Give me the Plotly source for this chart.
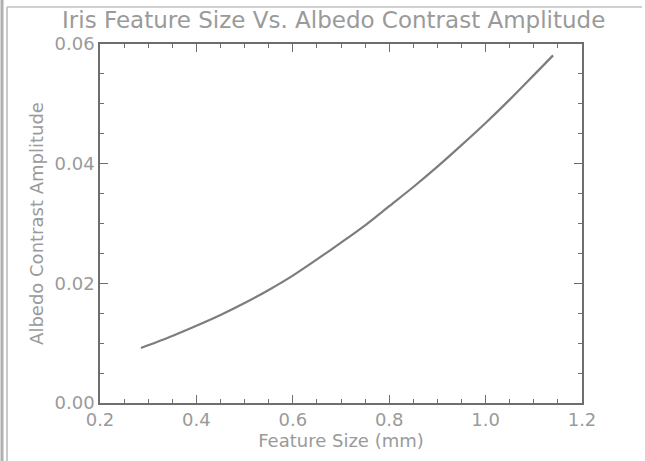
import plotly.graph_objects as go

feature_size = [0.285, 0.35, 0.40, 0.45, 0.50, 0.55, 0.60, 0.65, 0.70, 0.75,
                0.80, 0.85, 0.90, 0.95, 1.00, 1.05, 1.10, 1.14]
albedo_amp = [0.0092, 0.0112, 0.0129, 0.0147, 0.0167, 0.0189, 0.0213, 0.0240,
              0.0268, 0.0297, 0.0329, 0.0361, 0.0395, 0.0431, 0.0468, 0.0507,
              0.0548, 0.0581]
x_ticks = [0.2, 0.4, 0.6, 0.8, 1.0, 1.2]
x_tick_labels = ["0.2", "0.4", "0.6", "0.8", "1.0", "1.2"]
y_ticks = [0.0, 0.02, 0.04, 0.06]
y_tick_labels = ["0.00", "0.02", "0.04", "0.06"]

W, H = 645, 461
L, R, T, B = 100, 582, 44, 403
pw, ph = R - L, B - T

def px(xp):
    return (xp - L) / pw

def py(yp):
    return (B - yp) / ph

FONT = "DejaVu Sans"
TXT = "#9a9a9a"
AX = "#6e6e6e"

fig = go.Figure()
fig.add_trace(go.Scatter(x=feature_size, y=albedo_amp, mode="lines",
                         line=dict(color="#7d7d7d", width=2.2, shape="spline",
                                   smoothing=0.8),
                         hoverinfo="skip", showlegend=False))

axis_common = dict(showgrid=False, zeroline=False, showline=True, linecolor=AX,
                   linewidth=1.5, ticks="inside", ticklen=8, tickwidth=1.2,
                   tickcolor=AX, mirror="ticks",
                   tickfont=dict(family=FONT, size=18, color=TXT))

fig.update_layout(
    width=W, height=H,
    margin=dict(l=L, r=W - R, t=T, b=H - B, pad=0),
    paper_bgcolor="white", plot_bgcolor="white",
    xaxis=dict(range=[0.2, 1.2], tickvals=x_ticks, ticktext=x_tick_labels,
               minor=dict(dtick=0.05, ticks="inside", ticklen=4, tickwidth=1,
                          tickcolor=AX, showgrid=False),
               title=dict(text="Feature Size (mm)", standoff=2,
                          font=dict(family=FONT, size=18, color=TXT)),
               **axis_common),
    yaxis=dict(range=[0, 0.06], tickvals=y_ticks, ticktext=y_tick_labels,
               minor=dict(dtick=0.005, ticks="inside", ticklen=4, tickwidth=1,
                          tickcolor=AX, showgrid=False),
               title=dict(text="Albedo Contrast Amplitude", standoff=6,
                          font=dict(family=FONT, size=18, color=TXT)),
               **axis_common),
    annotations=[dict(text="Iris Feature Size Vs. Albedo Contrast Amplitude",
                      x=px(333), y=py(20), xref="paper", yref="paper",
                      xanchor="center", yanchor="middle", showarrow=False,
                      font=dict(family=FONT, size=23, color=TXT))],
    shapes=[
        dict(type="line", xref="paper", yref="paper", x0=px(2), x1=px(2),
             y0=py(0), y1=py(H), line=dict(color="#b0b0b0", width=3)),
        dict(type="line", xref="paper", yref="paper", x0=px(7), x1=px(7),
             y0=py(7), y1=py(H), line=dict(color="#b8b8b8", width=1.5)),
        dict(type="line", xref="paper", yref="paper", x0=px(7), x1=px(642),
             y0=py(7), y1=py(7), line=dict(color="#c0c0c0", width=1.5)),
    ],
)

fig.write_html("out.html", config={"displayModeBar": False},
               post_script="document.body.style.margin='0';")
